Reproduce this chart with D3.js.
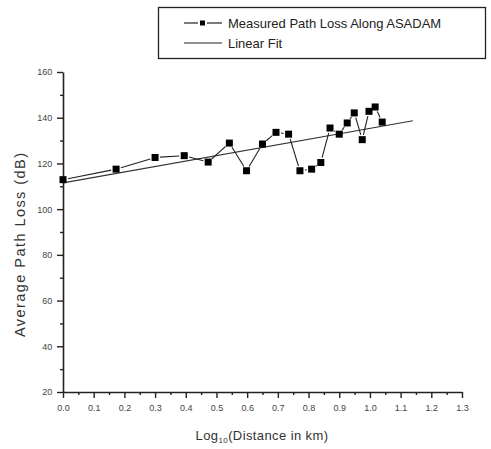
<!DOCTYPE html>
<html>
<head>
<meta charset="utf-8">
<script src="https://cdn.jsdelivr.net/npm/d3@7"></script>
<style>
  body { margin: 0; background: #fff; }
  text { font-family: "Liberation Sans", Arial, sans-serif; }
</style>
</head>
<body>
<script>
// measured path loss along ASADAM
const logDist = [0.0, 0.173, 0.30, 0.395, 0.473, 0.542, 0.598, 0.65, 0.694, 0.735, 0.772, 0.81, 0.84, 0.87, 0.90, 0.926, 0.949, 0.975, 0.997, 1.017, 1.04];
const pathLoss = [112.9, 117.5, 122.6, 123.4, 120.6, 128.9, 116.8, 128.5, 133.6, 132.8, 116.8, 117.5, 120.4, 135.5, 132.8, 137.7, 142.1, 130.4, 142.8, 144.7, 138.1];
// linear fit end points
const fitX = [0.0, 1.14];
const fitY = [111.5, 138.7];

const xTicks = d3.range(0, 1.31, 0.1);
const yTicks = d3.range(20, 161, 20);
const legendLabels = ["Measured Path Loss Along ASADAM", "Linear Fit"];

const width = 491, height = 449;
const svg = d3.select("body").append("svg")
  .attr("width", width).attr("height", height);

const x = d3.scaleLinear().domain([0, 1.3]).range([63, 462]);
const y = d3.scaleLinear().domain([20, 160]).range([392, 72]);

const ink = "#222";

// x axis
const xAxis = svg.append("g").attr("transform", `translate(0,${y(20)})`)
  .call(d3.axisBottom(x).tickValues(xTicks).tickFormat(d3.format(".1f")).tickSize(6).tickSizeOuter(0));
svg.append("g").attr("transform", `translate(0,${y(20)})`)
  .call(d3.axisBottom(x).tickValues(d3.range(0.05, 1.3, 0.1)).tickFormat("").tickSize(3).tickSizeOuter(0))
  .select(".domain").remove();

// y axis
const yAxis = svg.append("g").attr("transform", `translate(${x(0)},0)`)
  .call(d3.axisLeft(y).tickValues(yTicks).tickSize(6).tickSizeOuter(0));
svg.append("g").attr("transform", `translate(${x(0)},0)`)
  .call(d3.axisLeft(y).tickValues(d3.range(30, 160, 20)).tickFormat("").tickSize(3).tickSizeOuter(0))
  .select(".domain").remove();

svg.selectAll(".domain").attr("stroke", ink).attr("stroke-width", 1.6);
svg.selectAll(".tick line").attr("stroke", ink).attr("stroke-width", 1.4);
svg.selectAll(".tick text").attr("fill", "#444").attr("font-size", 9);
xAxis.selectAll(".tick text").attr("dy", "1.1em");
yAxis.selectAll(".tick text").attr("dx", "-0.2em");

// axis titles
const xt = svg.append("text").attr("x", 262).attr("y", 440)
  .attr("text-anchor", "middle").attr("font-size", 13).attr("letter-spacing", 0.4).attr("fill", "#333");
xt.append("tspan").text("Log");
xt.append("tspan").text("10").attr("font-size", 8).attr("dy", 3);
xt.append("tspan").text("(Distance in km)").attr("dy", -3);

svg.append("text")
  .attr("transform", `translate(25,245) rotate(-90)`)
  .attr("text-anchor", "middle").attr("font-size", 14.5).attr("fill", "#333")
  .attr("textLength", 184).attr("lengthAdjust", "spacing")
  .text("Average Path Loss (dB)");

// linear fit
svg.append("line")
  .attr("x1", x(fitX[0])).attr("y1", y(fitY[0]))
  .attr("x2", x(fitX[1])).attr("y2", y(fitY[1]))
  .attr("stroke", "#333").attr("stroke-width", 1.1);

// measured line, Origin style with gaps at symbols
const pts = logDist.map((d, i) => [x(d), y(pathLoss[i])]);
const gap = 5;
const segs = d3.pairs(pts).map(([a, b]) => {
  const dx = b[0] - a[0], dy = b[1] - a[1];
  const len = Math.hypot(dx, dy);
  const ux = dx / len, uy = dy / len;
  return len > 2 * gap ? [a[0] + ux * gap, a[1] + uy * gap, b[0] - ux * gap, b[1] - uy * gap] : null;
}).filter(s => s);
svg.append("g").selectAll("line").data(segs).join("line")
  .attr("x1", d => d[0]).attr("y1", d => d[1])
  .attr("x2", d => d[2]).attr("y2", d => d[3])
  .attr("stroke", "#222").attr("stroke-width", 1.1);

svg.append("g").selectAll("rect").data(pts).join("rect")
  .attr("x", d => d[0] - 3.5).attr("y", d => d[1] - 3.5)
  .attr("width", 7).attr("height", 7).attr("fill", "#000");

// legend
const lg = svg.append("g");
lg.append("rect").attr("x", 158.5).attr("y", 7.5).attr("width", 327).attr("height", 51)
  .attr("fill", "none").attr("stroke", "#222").attr("stroke-width", 1.3);
lg.append("line").attr("x1", 184).attr("x2", 198).attr("y1", 23).attr("y2", 23).attr("stroke", "#222").attr("stroke-width", 1.2);
lg.append("line").attr("x1", 207).attr("x2", 222).attr("y1", 23).attr("y2", 23).attr("stroke", "#222").attr("stroke-width", 1.2);
lg.append("rect").attr("x", 200).attr("y", 20.5).attr("width", 5).attr("height", 5).attr("fill", "#000");
lg.append("line").attr("x1", 184).attr("x2", 222).attr("y1", 43).attr("y2", 43).attr("stroke", "#222").attr("stroke-width", 1);
lg.selectAll("text").data(legendLabels).join("text")
  .attr("x", 228).attr("y", (d, i) => 27.5 + i * 20)
  .attr("font-size", 13).attr("fill", "#222").text(d => d);
</script>
</body>
</html>
